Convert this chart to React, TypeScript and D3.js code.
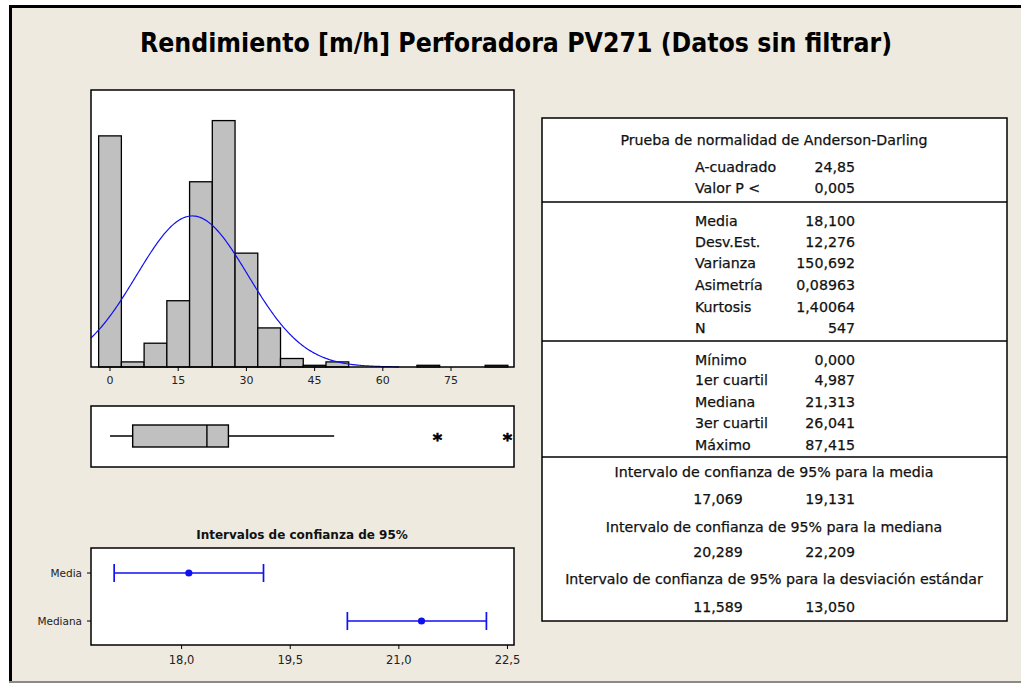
import React from "react";
import * as d3 from "d3";

// ---------- DATA ----------
const binCenters = [0, 5, 10, 15, 20, 25, 30, 35, 40, 45, 50, 55, 60, 65, 70, 75, 80, 85];
const binCounts = [136, 3, 14, 39, 109, 145, 67, 23, 5, 1, 3, 0, 0, 0, 1, 0, 0, 1];
const histTicks = [0, 15, 30, 45, 60, 75];

const meanVal = 18.1;
const sdVal = 12.276;
const nVal = 547;

const boxQ1 = 4.987;
const boxMedian = 21.313;
const boxQ3 = 26.041;
const whiskerLow = 0;
const whiskerHigh = 49.3;
const outliers = [72.0, 87.415];

const ciRows = ["Media", "Mediana"];
const ciCenters = [18.1, 21.313];
const ciLow = [17.069, 20.289];
const ciHigh = [19.131, 22.209];
const ciTicks = [18.0, 19.5, 21.0, 22.5];

const adLabels = ["A-cuadrado", "Valor P <"];
const adValues = ["24,85", "0,005"];
const descLabels = ["Media", "Desv.Est.", "Varianza", "Asimetría", "Kurtosis", "N"];
const descValues = ["18,100", "12,276", "150,692", "0,08963", "1,40064", "547"];
const quartLabels = ["Mínimo", "1er cuartil", "Mediana", "3er cuartil", "Máximo"];
const quartValues = ["0,000", "4,987", "21,313", "26,041", "87,415"];
const intervalTitles = [
  "Intervalo de confianza de 95% para la media",
  "Intervalo de confianza de 95% para la mediana",
  "Intervalo de confianza de 95% para la desviación estándar",
];
const intervalLows = ["17,069", "20,289", "11,589"];
const intervalHighs = ["19,131", "22,209", "13,050"];

// ---------- LAYOUT ----------
const W = 1021;
const H = 683;
const BG = "#EEEAE0";
const FONT = "'DejaVu Sans', Verdana, sans-serif";

const histL = 91, histR = 514, histT = 90, histB = 367;
const boxT = 406, boxB = 467, boxY = 436, boxHalf = 11;
const ciL = 91, ciR = 514, ciT = 548, ciB = 645;
const ciRowY = [573, 621];

const tabL = 542, tabR = 1007, tabT = 118, tabB = 621;
const tabDiv = [202, 341, 457];

export default function App() {
  const xHist = d3.scaleLinear().domain([-4.18, 88.85]).range([histL, histR]);
  const yHist = d3.scaleLinear().domain([0, 163]).range([histB, histT]);
  const xCI = d3.scaleLinear().domain([16.749, 22.59]).range([ciL, ciR]);

  const pdf = (x: number) =>
    (nVal * 5 * Math.exp(-0.5 * ((x - meanVal) / sdVal) ** 2)) / (sdVal * Math.sqrt(2 * Math.PI));
  const curveXs = d3.range(-4.18, 63.6, 0.25);
  const curvePath = d3
    .line<number>()
    .x((d) => xHist(d))
    .y((d) => yHist(pdf(d)))(curveXs) as string;

  const labelX = 695;
  const valueX = 855;

  const txt = (x: number, y: number, s: string, anchor: string, key: string, size = 14.2) => (
    <text key={key} x={x} y={y} dy="0.36em" textAnchor={anchor as any} fontFamily={FONT} fontSize={size}
      fill="#111" stroke="#111" strokeWidth={0.25}>
      {s}
    </text>
  );

  const adY = [167, 188];
  const descY = [221, 242, 263, 285, 307, 328];
  const quartY = [360, 380, 402, 423, 445];
  const intTitleY = [472, 527, 579];
  const intValY = [499, 552, 607];

  return (
    <svg width={W} height={H} style={{ position: "absolute", left: 0, top: 0 }} xmlns="http://www.w3.org/2000/svg">
      <rect x={0} y={0} width={W} height={H} fill="#ffffff" />
      <rect x={9} y={5} width={W - 9} height={676} fill={BG} />
      <rect x={9} y={5} width={3} height={678} fill="#000" />
      <rect x={9} y={5} width={W - 9} height={3} fill="#000" />
      <rect x={9} y={681} width={W - 9} height={2} fill="#8a8a86" />

      {/* Title */}
      <text x={516} y={52} textAnchor="middle" fontFamily={FONT} fontWeight="bold" fontSize={26} fill="#000"
        textLength={752} lengthAdjust="spacingAndGlyphs">
        Rendimiento [m/h] Perforadora PV271 (Datos sin filtrar)
      </text>

      {/* Histogram */}
      <rect x={histL} y={histT} width={histR - histL} height={histB - histT} fill="#fff" />
      {binCenters.map((c, i) =>
        binCounts[i] > 0 ? (
          <rect key={"b" + i} x={xHist(c - 2.5)} y={yHist(binCounts[i])} width={xHist(c + 2.5) - xHist(c - 2.5)}
            height={yHist(0) - yHist(binCounts[i])} fill="#C0C0C0" stroke="#000" strokeWidth={1.3} />
        ) : null
      )}
      <path d={curvePath} fill="none" stroke="#1010F0" strokeWidth={1.2} />
      <rect x={histL} y={histT} width={histR - histL} height={histB - histT} fill="none" stroke="#000" strokeWidth={1.5} />
      {histTicks.map((t) => (
        <g key={"ht" + t}>
          <line x1={xHist(t)} x2={xHist(t)} y1={histB} y2={histB + 4} stroke="#000" strokeWidth={1} />
          <text x={xHist(t)} y={histB + 13} dy="0.36em" textAnchor="middle" fontFamily={FONT} fontSize={11} fill="#222">
            {t}
          </text>
        </g>
      ))}

      {/* Boxplot */}
      <rect x={histL} y={boxT} width={histR - histL} height={boxB - boxT} fill="#fff" stroke="#000" strokeWidth={1.5} />
      <line x1={xHist(whiskerLow)} x2={xHist(boxQ1)} y1={boxY} y2={boxY} stroke="#000" strokeWidth={1.5} />
      <line x1={xHist(boxQ3)} x2={xHist(whiskerHigh)} y1={boxY} y2={boxY} stroke="#000" strokeWidth={1.5} />
      <rect x={xHist(boxQ1)} y={boxY - boxHalf} width={xHist(boxQ3) - xHist(boxQ1)} height={boxHalf * 2}
        fill="#C0C0C0" stroke="#000" strokeWidth={1.4} />
      <line x1={xHist(boxMedian)} x2={xHist(boxMedian)} y1={boxY - boxHalf} y2={boxY + boxHalf} stroke="#000" strokeWidth={1.4} />
      {outliers.map((o, i) => (
        <text key={"o" + i} x={xHist(o)} y={boxY + 10} textAnchor="middle" fontFamily={FONT} fontWeight="bold" fontSize={18}
          fill="#000" stroke="#000" strokeWidth={0.6}>
          *
        </text>
      ))}

      {/* CI plot */}
      <text x={302} y={535} dy="0.36em" textAnchor="middle" fontFamily={FONT} fontWeight="bold" fontSize={12} fill="#111">
        Intervalos de confianza de 95%
      </text>
      <rect x={ciL} y={ciT} width={ciR - ciL} height={ciB - ciT} fill="#fff" stroke="#000" strokeWidth={1.5} />
      {ciRows.map((r, i) => (
        <g key={"ci" + i}>
          <line x1={ciL - 4} x2={ciL} y1={ciRowY[i]} y2={ciRowY[i]} stroke="#000" strokeWidth={1} />
          <text x={ciL - 9} y={ciRowY[i]} dy="0.36em" textAnchor="end" fontFamily={FONT} fontSize={10.5} fill="#222">
            {r}
          </text>
          <line x1={xCI(ciLow[i])} x2={xCI(ciHigh[i])} y1={ciRowY[i]} y2={ciRowY[i]} stroke="#1010F0" strokeWidth={1.5} />
          <line x1={xCI(ciLow[i])} x2={xCI(ciLow[i])} y1={ciRowY[i] - 9} y2={ciRowY[i] + 9} stroke="#1010F0" strokeWidth={1.7} />
          <line x1={xCI(ciHigh[i])} x2={xCI(ciHigh[i])} y1={ciRowY[i] - 9} y2={ciRowY[i] + 9} stroke="#1010F0" strokeWidth={1.7} />
          <circle cx={xCI(ciCenters[i])} cy={ciRowY[i]} r={3.6} fill="#1010F0" />
        </g>
      ))}
      {ciTicks.map((t) => (
        <g key={"ct" + t}>
          <line x1={xCI(t)} x2={xCI(t)} y1={ciB} y2={ciB + 4} stroke="#000" strokeWidth={1} />
          <text x={xCI(t)} y={660} dy="0.36em" textAnchor="middle" fontFamily={FONT} fontSize={11.5} fill="#222">
            {t.toFixed(1).replace(".", ",")}
          </text>
        </g>
      ))}

      {/* Summary table */}
      <rect x={tabL} y={tabT} width={tabR - tabL} height={tabB - tabT} fill="#fff" stroke="#000" strokeWidth={1.5} />
      {tabDiv.map((y, i) => (
        <line key={"d" + i} x1={tabL} x2={tabR} y1={y} y2={y} stroke="#000" strokeWidth={1.5} />
      ))}
      {txt(774, 140, "Prueba de normalidad de Anderson-Darling", "middle", "adt")}
      {adLabels.map((l, i) => txt(labelX, adY[i], l, "start", "adl" + i))}
      {adValues.map((v, i) => txt(valueX, adY[i], v, "end", "adv" + i))}
      {descLabels.map((l, i) => txt(labelX, descY[i], l, "start", "dl" + i))}
      {descValues.map((v, i) => txt(valueX, descY[i], v, "end", "dv" + i))}
      {quartLabels.map((l, i) => txt(labelX, quartY[i], l, "start", "ql" + i))}
      {quartValues.map((v, i) => txt(valueX, quartY[i], v, "end", "qv" + i))}
      {intervalTitles.map((t, i) => txt(774, intTitleY[i], t, "middle", "it" + i))}
      {intervalLows.map((v, i) => txt(718, intValY[i], v, "middle", "il" + i))}
      {intervalHighs.map((v, i) => txt(valueX, intValY[i], v, "end", "ih" + i))}
    </svg>
  );
}
